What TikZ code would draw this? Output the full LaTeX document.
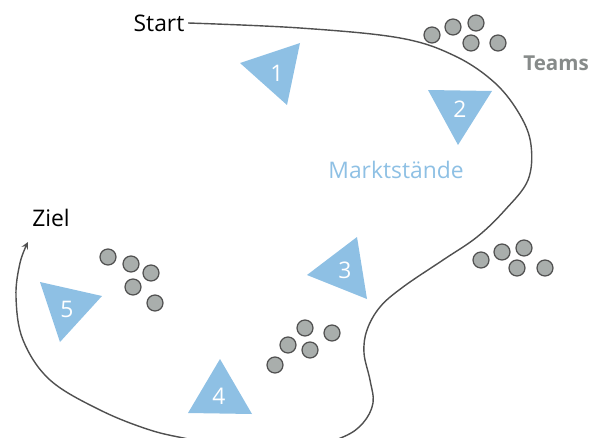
\documentclass[tikz,border=0pt]{standalone}
\usepackage{fontspec}
\setmainfont{Open Sans}
\usepackage{tikz}
\usetikzlibrary{arrows}
\definecolor{marktblau}{RGB}{142,192,228}
\definecolor{teamgrau}{RGB}{169,174,172}
\definecolor{linie}{RGB}{80,80,80}
\tikzset{
  markt/.style={fill=marktblau},
  nummer/.style={text=white,font=\fontsize{13}{15}\selectfont,inner sep=0pt},
  team/.style={circle,draw=linie,line width=0.7pt,fill=teamgrau,minimum size=0.32cm,inner sep=0pt},
  ort/.style={font=\fontsize{13}{15}\selectfont,inner sep=2pt}
}

\begin{document}
\begin{tikzpicture}[x=0.2mm,y=-0.2mm,>=stealth]
\useasboundingbox (0,0) rectangle (594,438);

\node[ort] (start) at (159,23) {Start};
\node[ort] (ziel) at (51,218) {Ziel};
\coordinate (ende) at (28,242);

% Weg von Start nach Ziel
\draw[linie,line width=0.8pt,->] plot[smooth,tension=0.6] coordinates {(start.east) (300,28) (400,38) (455,56)
  (495,83) (520,115) (531,145) (528,180) (505,210) (477,237) (443,260) (403,287) (380,307)
  (367,330) (364,353) (370,380) (373,403) (363,423) (343,437) (300,450) (250,452) (193,440)
  (150,430) (100,410) (50,380) (23,340) (16,297) (20,263) (ende)};

% Marktstaende
\fill[markt] (240,63) -- (300,43) -- (287,105) -- cycle;
\fill[markt] (428,90) -- (492,91) -- (458,145) -- cycle;
\fill[markt] (307,275) -- (357,237) -- (367,299) -- cycle;
\fill[markt] (220,359) -- (188,413) -- (252,414) -- cycle;
\fill[markt] (40,282) -- (102,296) -- (60,342) -- cycle;

\node[nummer] (s1) at (277,73) {1};
\node[nummer] (s2) at (460,109) {2};
\node[nummer] (s3) at (345,270) {3};
\node[nummer] (s4) at (219,396) {4};
\node[nummer] (s5) at (67,309) {5};

% Teams
\foreach \p [count=\i] in {(432,35),(453,27),(476,23),(471,43),(498,43),
  (481,260),(502,252),(524,248),(517,268),(545,268),
  (275,365),(288,345),(305,328),(310,350),(332,333),
  (108,257),(131,264),(151,273),(133,287),(155,303)}
  \node[team] (team\i) at \p {};

\node[font=\fontsize{11.7}{14}\bfseries,text=teamgrau!80!black] (teams) at (556,63) {Teams};
\node[ort,text=marktblau] (markt) at (396,170) {Marktstände};

\end{tikzpicture}
\end{document}
